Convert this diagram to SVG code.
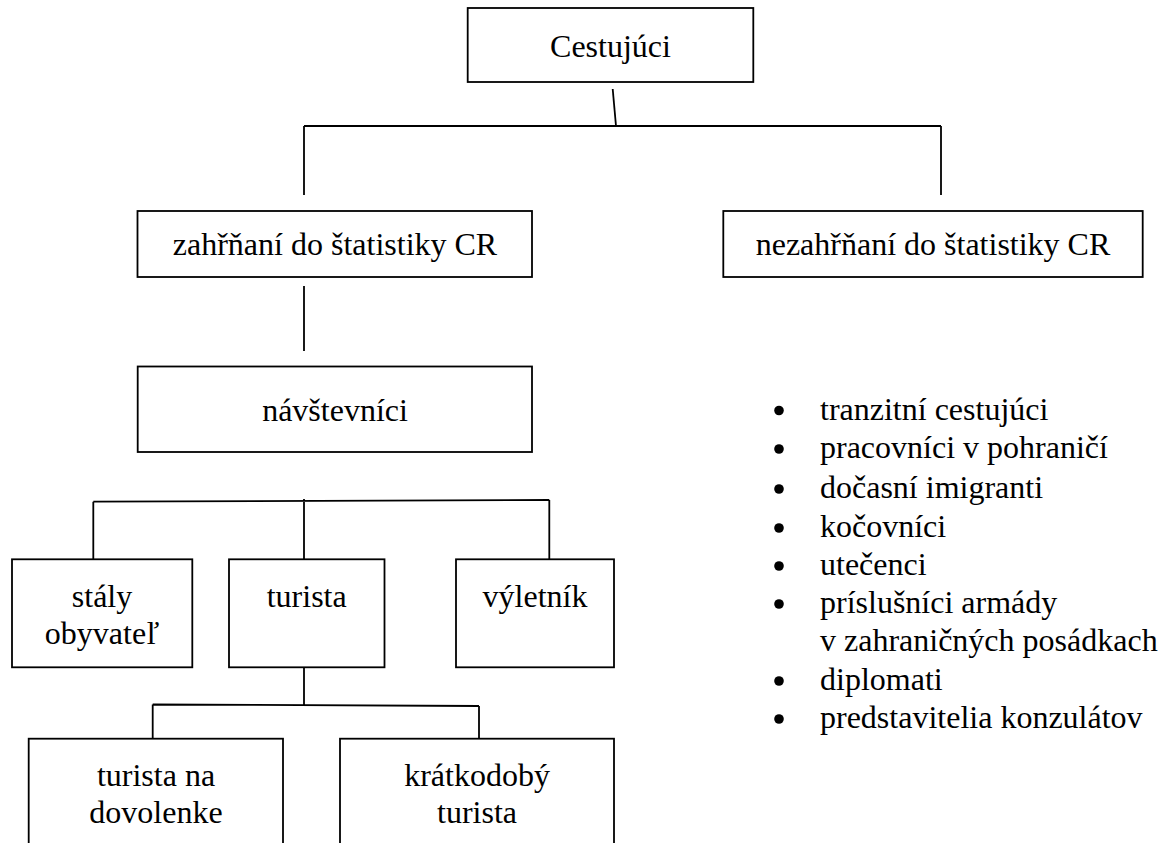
<svg xmlns="http://www.w3.org/2000/svg" width="1164" height="843" viewBox="0 0 1164 843">
<style>
.box{fill:#fff;stroke:#000;stroke-width:1.8}
.ln{fill:none;stroke:#000;stroke-width:1.8}
.c{text-anchor:middle}
</style>
<rect width="1164" height="843" fill="#fff"/>
<g id="connectors">
<path class="ln" d="M612.7,89 L616,126"/>
<path class="ln" d="M304,126 L941,126 M304,126 L304,195 M941,126 L941,195"/>
<path class="ln" d="M304,286 L304,351"/>
<path class="ln" d="M304,499 L304,559 M93.3,501.7 L549.3,500 M93.3,501.7 L93.3,559 M549.3,500 L549.3,559"/>
<path class="ln" d="M304,667 L304,705 M152.7,704.5 L479,706 M152.7,704.5 L152.7,739 M479,706 L479,739"/>
</g>
<g font-family="'Liberation Serif', 'Times New Roman', 'DejaVu Serif', serif" font-size="32" fill="#000">
<g id="cestujuci">
<rect class="box" x="467.7" y="8" width="285.6" height="74"/>
<text class="c" x="610.5" y="57">Cestujúci</text>
</g>
<g id="zahrnani">
<rect class="box" x="137.5" y="211" width="394.5" height="66"/>
<text class="c" x="335" y="255">zahřňaní do štatistiky CR</text>
</g>
<g id="nezahrnani">
<rect class="box" x="723.3" y="211" width="419.4" height="66"/>
<text class="c" x="933" y="255">nezahřňaní do štatistiky CR</text>
</g>
<g id="navstevnici">
<rect class="box" x="137.7" y="366.5" width="394.3" height="85.5"/>
<text class="c" x="335" y="421">návštevníci</text>
</g>
<g id="staly">
<rect class="box" x="12" y="559.3" width="180.3" height="108"/>
<text class="c" x="102" y="607">stály</text>
<text class="c" x="102" y="644">obyvateľ</text>
</g>
<g id="turista">
<rect class="box" x="229" y="559.3" width="155.5" height="108"/>
<text class="c" x="306.7" y="607">turista</text>
</g>
<g id="vyletnik">
<rect class="box" x="456" y="559.3" width="158" height="108"/>
<text class="c" x="535" y="607">výletník</text>
</g>
<g id="turista-dovolenka">
<rect class="box" x="28.7" y="738.7" width="254.3" height="130"/>
<text class="c" x="156" y="786">turista na</text>
<text class="c" x="156" y="822.7">dovolenke</text>
</g>
<g id="kratkodoby">
<rect class="box" x="340" y="738.7" width="274" height="130"/>
<text class="c" x="477" y="786">krátkodobý</text>
<text class="c" x="477" y="822.7">turista</text>
</g>
<g id="list">
<circle cx="779" cy="410.5" r="4.8"/>
<text x="820" y="419.5">tranzitní cestujúci</text>
<circle cx="779" cy="449" r="4.8"/>
<text x="820" y="458">pracovníci v pohraničí</text>
<circle cx="779" cy="489" r="4.8"/>
<text x="820" y="498">dočasní imigranti</text>
<circle cx="779" cy="528" r="4.8"/>
<text x="820" y="537">kočovníci</text>
<circle cx="779" cy="566" r="4.8"/>
<text x="820" y="575">utečenci</text>
<circle cx="779" cy="604" r="4.8"/>
<text x="820" y="613">príslušníci armády</text>
<text x="820" y="651">v zahraničných posádkach</text>
<circle cx="779" cy="681" r="4.8"/>
<text x="820" y="690">diplomati</text>
<circle cx="779" cy="719" r="4.8"/>
<text x="820" y="728">predstavitelia konzulátov</text>
</g>
</g>
</svg>
